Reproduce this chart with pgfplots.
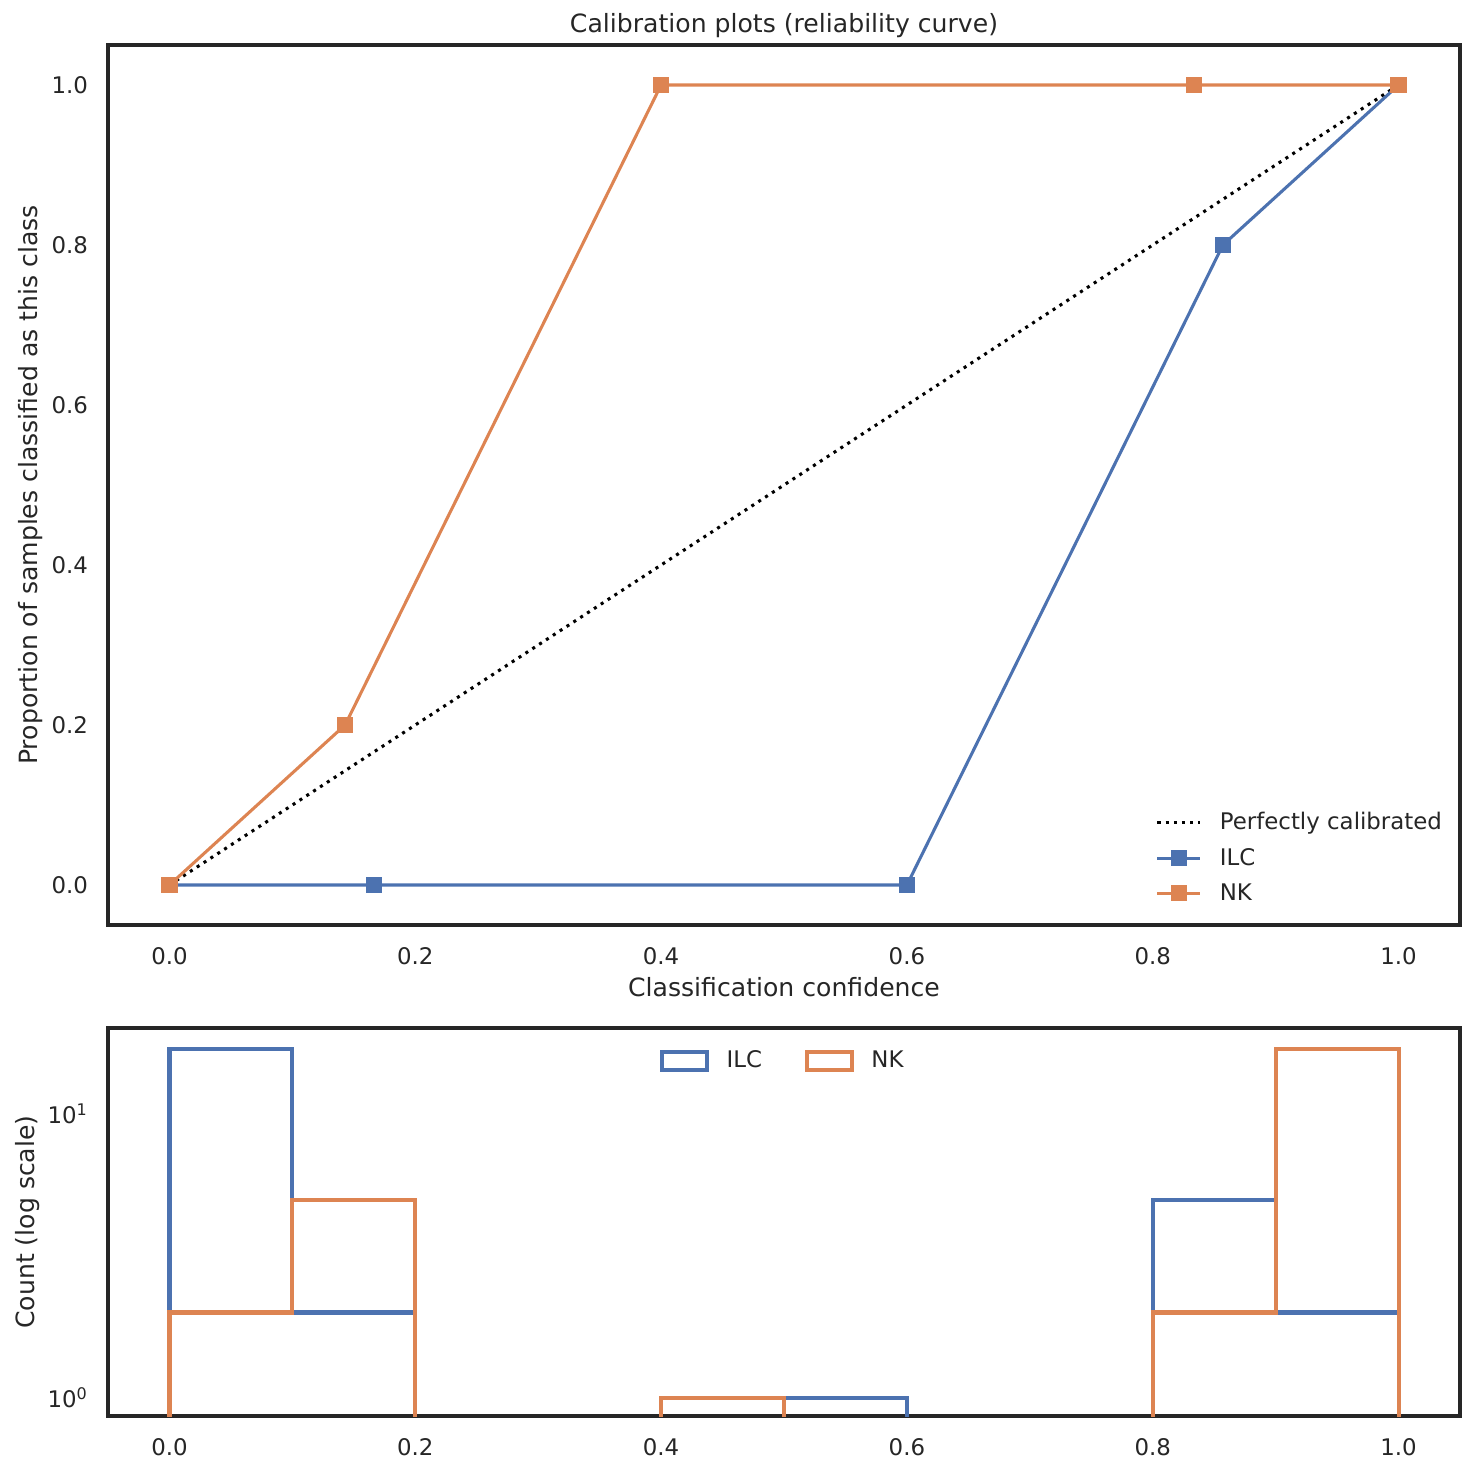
\documentclass[border=0pt]{standalone}
\usepackage{fontspec}
\setmainfont{DejaVu Sans}
\usepackage{pgfplots}
\pgfplotsset{compat=1.18}
\definecolor{sbblue}{RGB}{76,114,176}
\definecolor{sborange}{RGB}{221,132,82}
\definecolor{sbdark}{RGB}{38,38,38}
\begin{document}
\begin{tikzpicture}
\useasboundingbox (0,0) rectangle (722.65pt,-722.16pt);
\pgfplotsset{
  every axis/.append style={
    scale only axis,
    width=661.94pt,
    font=\fontsize{12.3}{14.8}\selectfont,
    /pgf/number format/assume math mode=true,
    axis line style={sbdark, line width=1.6pt},
    tick style={draw=none},
    major tick length=0pt, minor tick length=0pt,
    xmin=-0.05, xmax=1.05,
    xtick={0,0.2,0.4,0.6,0.8,1.0},
    tick label style={font=\fontsize{11.2}{13.4}\selectfont},
    xticklabel style={/pgf/number format/.cd, fixed, fixed zerofill, precision=1, /tikz/.cd, text=sbdark, yshift=-7.5pt},
    yticklabel style={text=sbdark, xshift=-6.3pt},
    label style={text=sbdark},
    title style={text=sbdark},
    legend style={draw=none, fill=none, text=sbdark, font=\fontsize{11.2}{13.4}\selectfont},
    legend cell align=left,
  }
}
\begin{axis}[
  at={(52.88pt,-22.03pt)}, anchor=north west,
  height=430.85pt,
  ymin=-0.05, ymax=1.05,
  ytick={0,0.2,0.4,0.6,0.8,1.0},
  yticklabel style={/pgf/number format/.cd, fixed, fixed zerofill, precision=1},
  title={Calibration plots (reliability curve)},
  title style={at={(axis description cs:0.5,1)}, anchor=base},
  xlabel={Classification confidence},
  xlabel style={at={(axis description cs:0.5,-0.0808)}, anchor=base},
  ylabel={Proportion of samples classified as this class},
  ylabel style={at={(axis description cs:-0.0518,0.5)}, anchor=base, rotate=0},
  legend style={at={(axis description cs:0.9945,0.015)}, anchor=south east, row sep=3.5pt,
    /tikz/every odd column/.append style={column sep=6.8pt}},
  legend image code/.code={\draw[#1, mark repeat=2, mark phase=2] plot coordinates {(0pt,0pt) (10.5pt,0pt) (21pt,0pt)};},
]
\addplot[black, line width=1.5pt, dash pattern=on 1.5pt off 2.5pt] coordinates {(0,0) (1,1)};
\addlegendentry{Perfectly calibrated}
\addplot[sbblue, line width=1.5pt, mark=square*, mark size=3.2pt, mark options={solid, fill=sbblue, draw=sbblue}] coordinates {
(0,0) (0.1667,0) (0.6,0) (0.8571,0.8) (1.0,1.0)};
\addlegendentry{ILC}
\addplot[sborange, line width=1.5pt, mark=square*, mark size=3.2pt, mark options={solid, fill=sborange, draw=sborange}] coordinates {
(0,0) (0.1429,0.2) (0.4,1.0) (0.8333,1.0) (1.0,1.0)};
\addlegendentry{NK}
\end{axis}
\begin{axis}[
  at={(52.88pt,-503.31pt)}, anchor=north west,
  height=189.96pt,
  ymode=log, ymin=0.864, ymax=20.1,
  ytick={1,10}, yticklabels={10\textsuperscript{0},10\textsuperscript{1}},
  xticklabel style={/pgf/number format/.cd, fixed, fixed zerofill, precision=1},
  ylabel={Count (log scale)},
  ylabel style={at={(axis description cs:-0.0547,0.5)}, anchor=base, rotate=0},
  unbounded coords=jump,
  legend columns=2,
  legend style={at={(axis description cs:0.5,0.964)}, anchor=north,
    /tikz/every even column/.append style={column sep=19pt},
    /tikz/every odd column/.append style={column sep=6.5pt}},
  legend image code/.code={\draw[#1, line width=2pt] (0pt,-4.4pt) rectangle (22pt,4.4pt);},
]
\addplot[sbblue, line width=2pt, line join=miter] coordinates {
(0,0.5) (0,17) (0.1,17) (0.1,2) (0.2,2) (0.2,0.5) (0.3,nan)
(0.5,0.5) (0.5,1) (0.6,1) (0.6,0.5) (0.7,nan)
(0.8,0.5) (0.8,5) (0.9,5) (0.9,2) (1.0,2) (1.0,0.5)};
\addlegendentry{ILC}
\addplot[sborange, line width=2pt, line join=miter] coordinates {
(0,0.5) (0,2) (0.1,2) (0.1,5) (0.2,5) (0.2,0.5) (0.3,nan)
(0.4,0.5) (0.4,1) (0.5,1) (0.5,0.5) (0.7,nan)
(0.8,0.5) (0.8,2) (0.9,2) (0.9,17) (1.0,17) (1.0,0.5)};
\addlegendentry{NK}
\end{axis}
\end{tikzpicture}
\end{document}
